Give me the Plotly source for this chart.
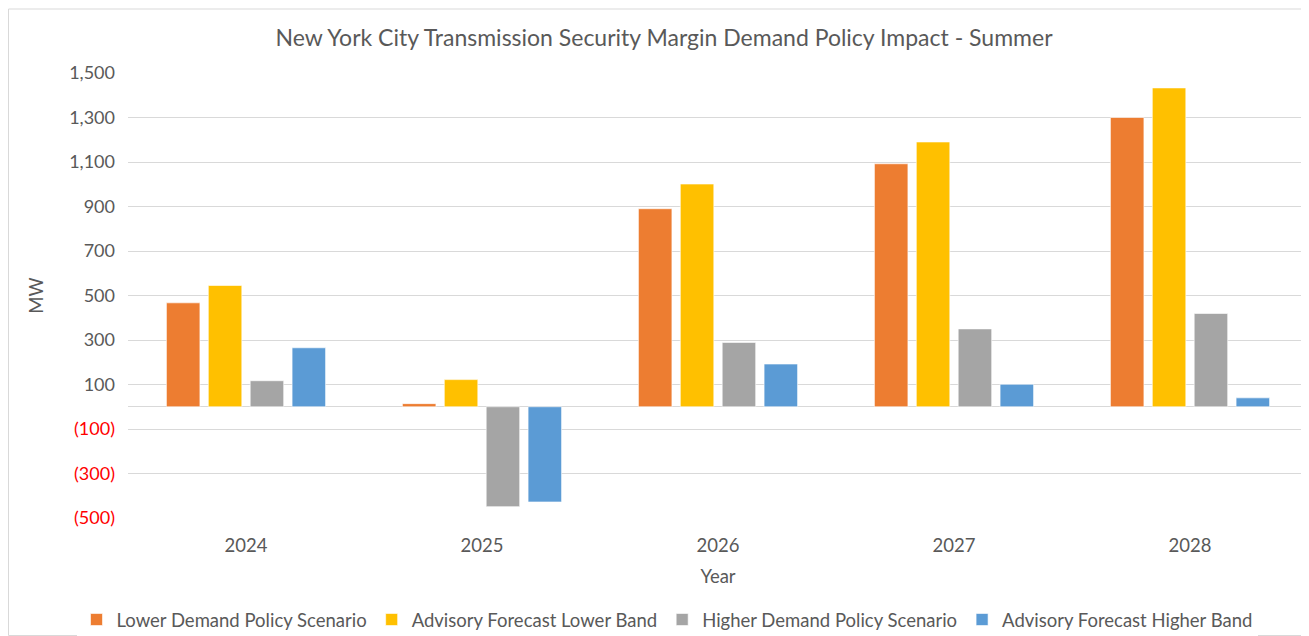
import plotly.graph_objects as go

years = ["2024", "2025", "2026", "2027", "2028"]
series_names = [
    "Lower Demand Policy Scenario",
    "Advisory Forecast Lower Band",
    "Higher Demand Policy Scenario",
    "Advisory Forecast Higher Band",
]
lower_demand = [467, 14, 890, 1092, 1300]
advisory_lower = [545, 122, 1001, 1190, 1433]
higher_demand = [117, -449, 289, 350, 419]
advisory_higher = [265, -428, 192, 101, 40]
series_values = [lower_demand, advisory_lower, higher_demand, advisory_higher]
colors = ["#ED7D31", "#FFC000", "#A5A5A5", "#5B9BD5"]

tick_vals = [-500, -300, -100, 100, 300, 500, 700, 900, 1100, 1300, 1500]
tick_text = [
    '<span style="color:#FF0000">(500)</span>',
    '<span style="color:#FF0000">(300)</span>',
    '<span style="color:#FF0000">(100)</span>',
    "100", "300", "500", "700", "900", "1,100", "1,300", "1,500",
]

FONT = "Lato, Open Sans, sans-serif"
TXT = "#595959"

fig = go.Figure()
for name, vals, col in zip(series_names, series_values, colors):
    fig.add_trace(go.Bar(
        x=years, y=vals, name=name,
        marker=dict(color=col, line=dict(color="rgba(255,255,255,0.6)", width=1)),
    ))

# the page body adds an 8px offset; compensate
OFF = 8
W, H = 1309 - OFF, 636 - OFF
L, T = 128 - OFF, 73 - OFF
R, B = 1, 636 - 518
pw, ph = W - L - R, H - T - B


def px_x(x):  # reference pixel x -> paper
    return (x - OFF - L) / pw


def px_y(y):  # reference pixel y -> paper
    return (H - B - (y - OFF)) / ph


fig.update_layout(
    width=W, height=H,
    margin=dict(l=L, r=R, t=T, b=B, autoexpand=False),
    paper_bgcolor="white", plot_bgcolor="white",
    barmode="group", bargap=0.29, bargroupgap=0.2,
    font=dict(family=FONT, color=TXT, size=18),
    title=dict(
        text="New York City Transmission Security Margin Demand Policy Impact - Summer",
        x=px_x(664), xref="paper", xanchor="center",
        y=1 - (38 - OFF) / H, yanchor="middle",
        font=dict(size=23, color=TXT, family=FONT),
    ),
    xaxis=dict(
        title=dict(text="Year", font=dict(size=18.5, color=TXT), standoff=15),
        showgrid=False, showline=False, zeroline=False,
        tickfont=dict(size=18.5, color=TXT), ticks="", automargin=False,
        ticklabelstandoff=14,
    ),
    yaxis=dict(
        title=dict(text="MW", font=dict(size=18.5, color=TXT), standoff=20),
        range=[-500, 1500],
        tickvals=tick_vals, ticktext=tick_text,
        tickfont=dict(size=18, color=TXT),
        showgrid=True, gridcolor="#D9D9D9", gridwidth=1,
        zeroline=True, zerolinecolor="#D9D9D9", zerolinewidth=1,
        showline=False, ticks="", automargin=False,
        ticklabelstandoff=12,
    ),
    legend=dict(
        orientation="h", x=px_x(667), xanchor="center",
        y=px_y(620), yanchor="middle",
        font=dict(size=18.5, color=TXT), itemwidth=30,
        traceorder="normal",
    ),
    shapes=[dict(
        type="rect", xref="paper", yref="paper",
        x0=px_x(8.5), x1=px_x(1308.5),
        y0=px_y(635.5), y1=px_y(9),
        line=dict(color="#D9D9D9", width=1), fillcolor="rgba(0,0,0,0)",
        layer="below",
    )],
)

fig.write_html("out.html")
